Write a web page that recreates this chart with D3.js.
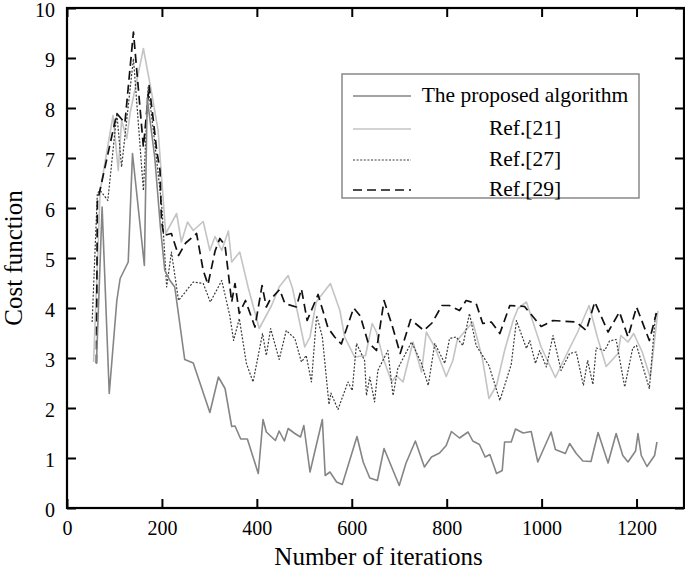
<!DOCTYPE html>
<html><head><meta charset="utf-8">
<script src="https://cdn.jsdelivr.net/npm/d3@7/dist/d3.min.js"></script>
<style>body{margin:0;background:#fff}svg{display:block}</style>
</head><body>
<svg id="c" width="685" height="572"></svg>
<script>
const xTicks = [0,200,400,600,800,1000,1200];
const yTicks = [0,1,2,3,4,5,6,7,8,9,10];
const seriesNames = ["The proposed algorithm","Ref.[21]","Ref.[27]","Ref.[29]"];

const proposedX = [62,74,89,105,112,129,138,163,169,185,197,206,217,227,248,266,301,319,333,347,354,366,380,403,413,420,439,447,458,466,480,492,499,512,538,544,554,568,580,611,624,638,654,668,700,714,734,753,768,785,799,810,827,845,855,869,881,891,905,917,922,936,945,961,978,992,1020,1029,1050,1059,1073,1087,1104,1119,1140,1157,1171,1182,1198,1203,1210,1222,1238,1243];
const proposedY = [2.9,6.02,2.29,4.15,4.59,4.92,7.09,4.85,8.2,7.0,5.6,4.75,4.55,4.42,2.97,2.9,1.91,2.62,2.39,1.63,1.64,1.38,1.38,0.69,1.77,1.52,1.35,1.54,1.34,1.59,1.49,1.42,1.65,0.72,1.77,0.65,0.72,0.52,0.47,1.43,0.92,0.6,0.55,1.19,0.45,0.89,1.34,0.82,1.02,1.1,1.25,1.53,1.4,1.52,1.34,1.27,1.02,1.07,0.69,0.75,1.32,1.32,1.58,1.5,1.53,0.92,1.52,1.17,1.09,1.29,1.09,0.94,0.93,1.51,0.9,1.49,1.05,0.92,1.14,1.49,1.05,0.83,1.05,1.32];

const ref21X = [56,70,97,108,115,126,133,161,178,192,208,231,241,254,266,287,301,312,326,340,347,364,382,405,431,447,466,475,501,512,525,555,575,585,606,629,643,652,666,684,694,708,729,747,757,776,799,813,822,855,875,889,905,922,940,950,968,999,1029,1055,1076,1100,1118,1136,1161,1167,1182,1194,1212,1229,1245];
const ref21Y = [2.92,6.35,7.85,6.75,7.75,7.39,7.9,9.19,8.32,7.55,5.49,5.89,5.32,5.72,5.55,5.73,5.15,5.43,5.15,5.54,4.92,5.12,4.4,3.59,4.05,4.42,4.65,4.4,3.22,3.42,4.12,4.49,3.95,3.42,3.02,3.05,3.69,3.52,3.0,2.52,2.65,2.52,3.32,2.72,3.52,3.2,2.63,2.95,3.35,3.72,3.0,2.19,2.45,3.15,3.75,3.99,4.12,3.22,2.61,3.12,3.52,4.05,3.4,2.83,3.09,3.45,3.32,3.49,3.12,2.61,3.94];

const ref27X = [53,64,70,86,105,115,140,161,171,185,200,210,220,235,266,287,302,326,343,351,363,378,392,412,420,429,447,462,480,494,504,515,526,538,552,556,571,592,601,610,627,631,638,648,655,676,687,697,726,747,761,775,796,806,820,834,848,862,889,912,936,947,968,975,987,996,1010,1024,1041,1059,1073,1088,1097,1108,1115,1133,1143,1157,1175,1192,1200,1227,1240];
const ref27Y = [3.72,6.3,6.35,6.15,7.89,6.82,8.99,6.35,8.42,7.3,6.0,4.42,5.12,4.15,4.52,4.49,4.12,4.55,3.85,3.35,3.79,2.89,2.52,3.49,3.05,3.59,2.97,3.55,3.39,2.92,3.05,2.52,3.85,3.42,2.07,2.3,1.97,2.52,2.35,3.29,2.95,2.25,2.62,2.12,2.75,3.15,2.25,2.79,3.32,2.89,2.45,3.29,2.89,3.39,3.42,3.25,3.89,3.25,2.85,2.15,2.87,3.75,3.19,3.35,2.89,3.15,2.82,3.45,2.75,3.09,3.12,2.45,2.95,2.47,3.2,3.15,3.34,3.37,2.42,3.2,3.25,2.39,3.89];

const ref29X = [62,64,94,105,122,140,147,161,173,182,189,196,199,204,220,235,250,273,287,297,312,322,333,347,354,363,376,396,411,420,427,448,459,483,494,506,529,550,564,578,604,618,634,652,668,686,702,724,752,769,790,806,827,841,862,876,894,912,933,964,999,1024,1073,1094,1112,1140,1164,1182,1200,1227,1242];
const ref29Y = [2.89,6.12,7.42,7.89,7.7,9.52,8.75,7.22,8.45,7.75,7.15,6.75,5.75,5.45,5.49,5.05,5.3,5.49,4.75,4.47,5.14,5.39,5.25,4.12,4.49,3.89,4.15,3.62,4.45,4.02,4.15,4.37,4.09,4.02,4.38,3.75,4.27,3.6,3.42,3.28,4.0,3.84,3.32,3.15,4.15,3.62,3.09,3.77,3.55,3.7,4.05,4.05,3.95,4.15,4.09,3.69,3.72,3.49,4.05,4.03,3.63,3.75,3.72,3.55,4.12,3.52,3.92,3.42,4.02,3.35,3.9];

const svg = d3.select("#c");
const L = 67, R = 684, T = 8, B = 508;
const x = d3.scaleLinear().domain([0,1300]).range([L,R]);
const y = d3.scaleLinear().domain([0,10]).range([B,T]);
const font = "'Liberation Serif','Times New Roman',serif";

const styles = [
  {color:"#858585", width:1.6, dash:null},
  {color:"#c4c4c4", width:1.6, dash:null},
  {color:"#3a3a3a", width:1.2, dash:"2,1.6"},
  {color:"#111111", width:1.7, dash:"9,5"}
];
const series = [
  d3.zip(proposedX, proposedY),
  d3.zip(ref21X, ref21Y),
  d3.zip(ref27X, ref27Y),
  d3.zip(ref29X, ref29Y)
];
const line = d3.line().x(d=>x(d[0])).y(d=>y(d[1]));
const drawOrder = [1,2,3,0];
drawOrder.forEach(i=>{
  const s = styles[i];
  svg.append("path").datum(series[i]).attr("d",line)
    .attr("fill","none").attr("stroke",s.color).attr("stroke-width",s.width)
    .attr("stroke-dasharray",s.dash).attr("stroke-linejoin","round");
});

// axes
const tk = 9;
const gx = svg.append("g").attr("transform",`translate(0,${B})`)
  .call(d3.axisBottom(x).tickValues(xTicks).tickFormat(d3.format("d")).tickSizeInner(-tk).tickSizeOuter(0).tickPadding(13));
const gy = svg.append("g").attr("transform",`translate(${L},0)`)
  .call(d3.axisLeft(y).tickValues(yTicks).tickFormat(d3.format("d")).tickSizeInner(-tk).tickSizeOuter(0).tickPadding(12));
const gt = svg.append("g").attr("transform",`translate(0,${T})`)
  .call(d3.axisTop(x).tickValues(xTicks).tickSizeInner(-tk).tickSizeOuter(0).tickFormat(""));
const gr = svg.append("g").attr("transform",`translate(${R},0)`)
  .call(d3.axisRight(y).tickValues(yTicks).tickSizeInner(-tk).tickSizeOuter(0).tickFormat(""));
[gx,gy,gt,gr].forEach(g=>{
  g.select(".domain").remove();
  g.selectAll(".tick line").attr("stroke","#000").attr("stroke-width",2);
  g.selectAll("text").attr("font-family",font).attr("font-size",20).attr("fill","#000");
});
gy.selectAll("text").attr("dy","0.42em");
svg.append("rect").attr("x",L).attr("y",T).attr("width",R-L).attr("height",B-T)
  .attr("fill","none").attr("stroke","#000").attr("stroke-width",2.2);

svg.append("text").attr("x",(L+R)/2+3).attr("y",565).attr("text-anchor","middle")
  .attr("font-family",font).attr("font-size",25).text("Number of iterations");
svg.append("text").attr("transform",`translate(22,${(T+B)/2}) rotate(-90)`).attr("text-anchor","middle")
  .attr("font-family",font).attr("font-size",25).text("Cost function");

// legend
const lg = svg.append("g");
lg.append("rect").attr("x",342).attr("y",74).attr("width",297).attr("height",124)
  .attr("fill","#fff").attr("stroke","#808080").attr("stroke-width",1.4);
const rowY = [96,129,160,190];
seriesNames.forEach((n,i)=>{
  const s = styles[i];
  lg.append("line").attr("x1",353).attr("x2",411).attr("y1",rowY[i]).attr("y2",rowY[i])
    .attr("stroke",s.color).attr("stroke-width",s.width).attr("stroke-dasharray",s.dash);
  lg.append("text").attr("x",525).attr("y",rowY[i]+6).attr("text-anchor","middle")
    .attr("font-family",font).attr("font-size",21.5).text(n);
});
</script>
</body></html>
